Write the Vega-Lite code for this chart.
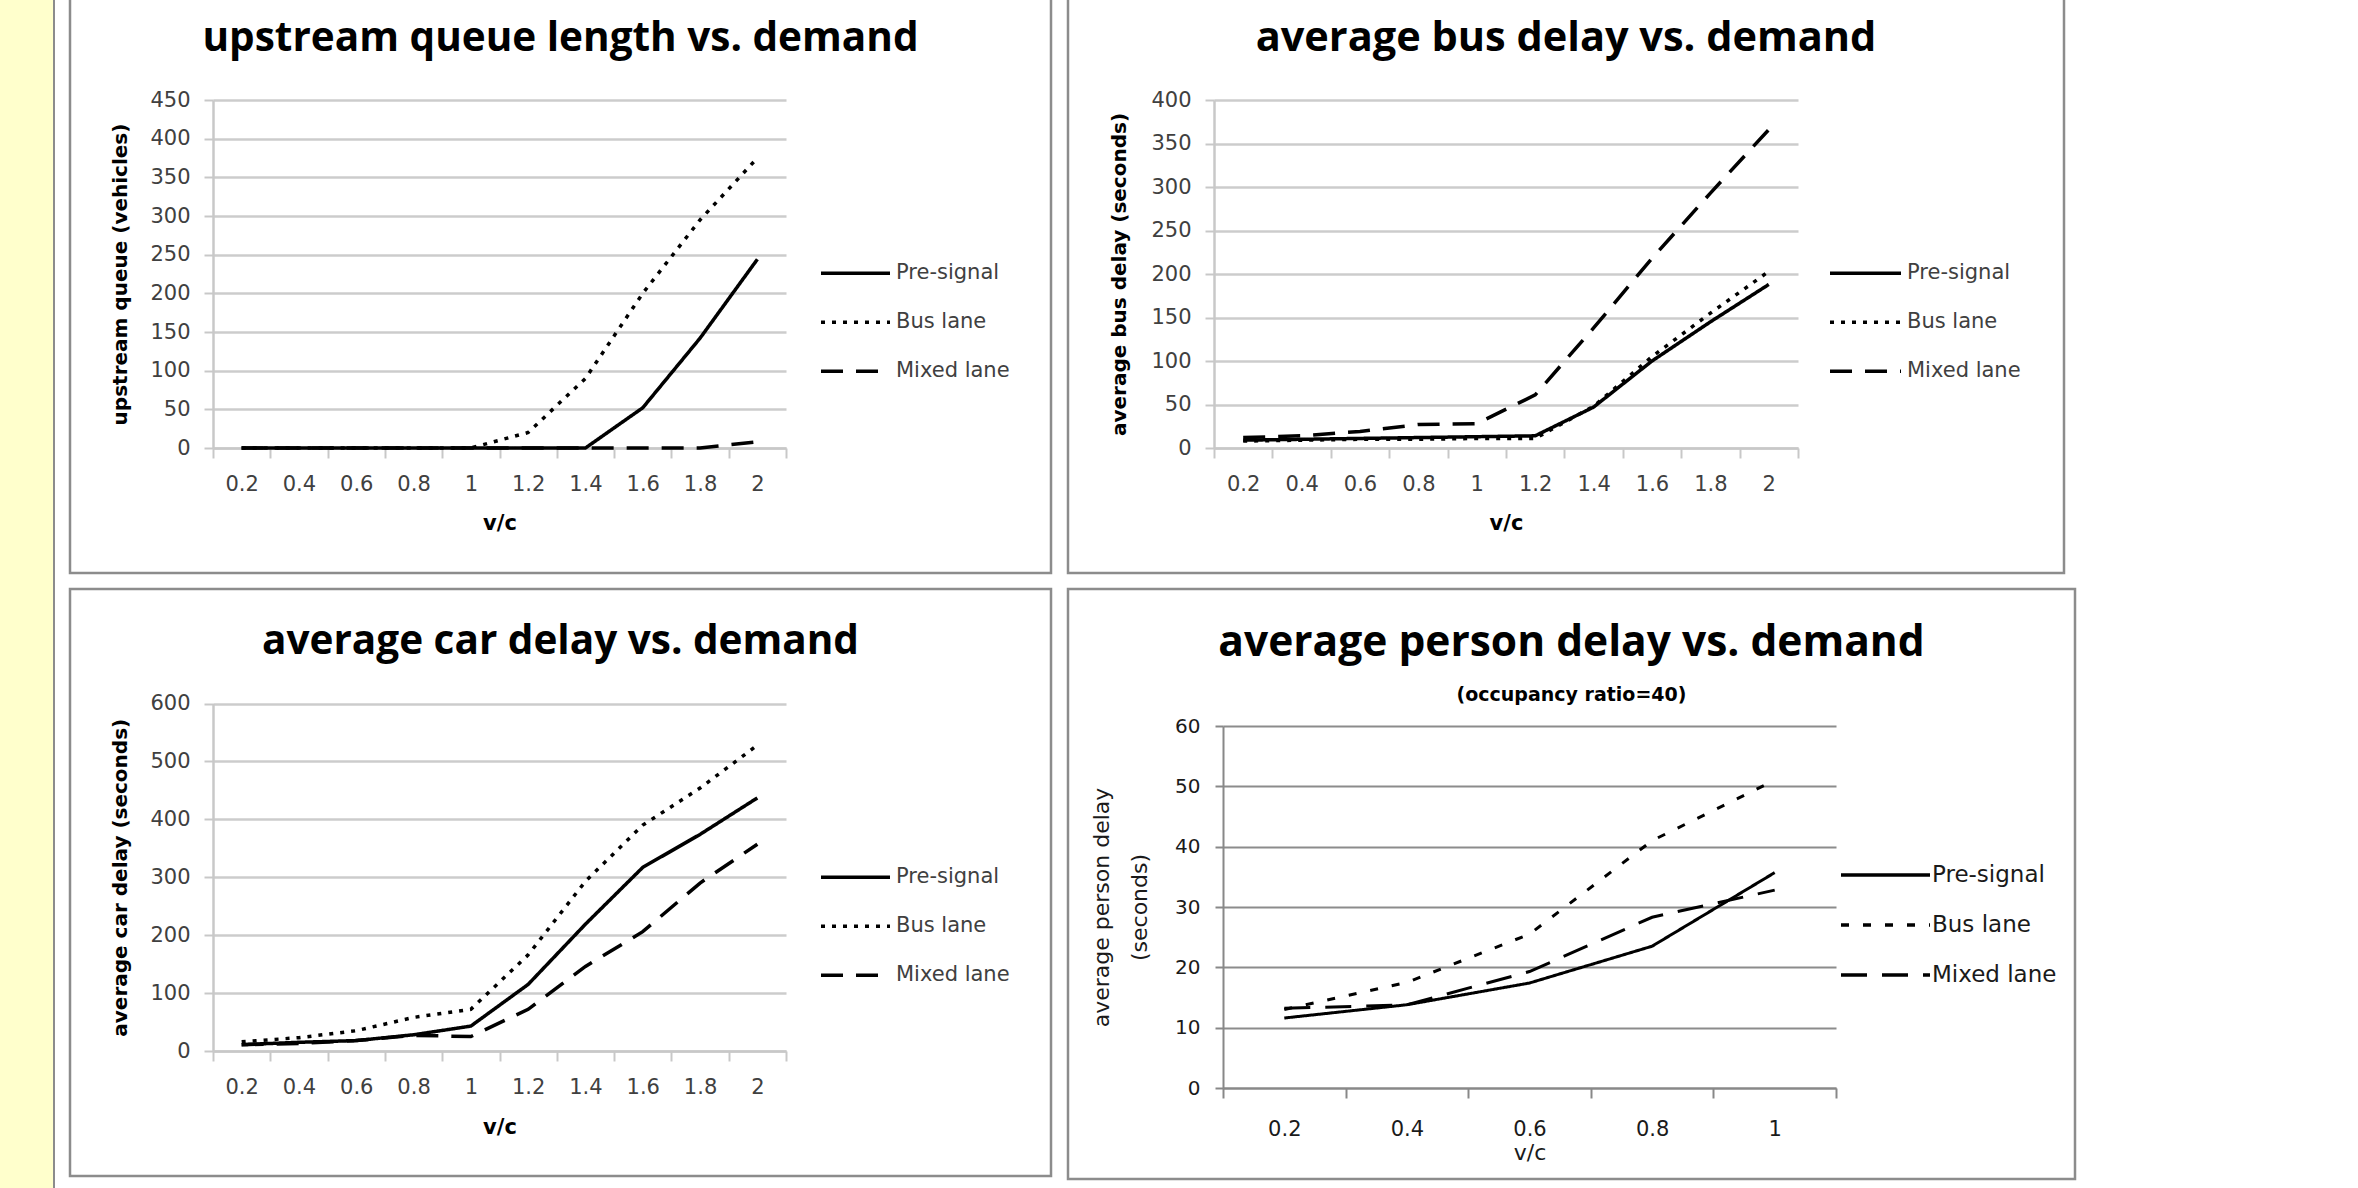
{
  "$schema": "https://vega.github.io/schema/vega-lite/v6.json",
  "padding": {"left": -4, "top": -16, "right": 0, "bottom": 0},
  "background": "white",
  "datasets": {
    "queue": [
      {"vc": 0.2, "series": "Pre-signal", "value": 0}, {"vc": 0.4, "series": "Pre-signal", "value": 0}, {"vc": 0.6, "series": "Pre-signal", "value": 0}, {"vc": 0.8, "series": "Pre-signal", "value": 0}, {"vc": 1, "series": "Pre-signal", "value": 0}, {"vc": 1.2, "series": "Pre-signal", "value": 0}, {"vc": 1.4, "series": "Pre-signal", "value": 0}, {"vc": 1.6, "series": "Pre-signal", "value": 52}, {"vc": 1.8, "series": "Pre-signal", "value": 142}, {"vc": 2, "series": "Pre-signal", "value": 244},
      {"vc": 0.2, "series": "Bus lane", "value": 0}, {"vc": 0.4, "series": "Bus lane", "value": 0}, {"vc": 0.6, "series": "Bus lane", "value": 0}, {"vc": 0.8, "series": "Bus lane", "value": 0}, {"vc": 1, "series": "Bus lane", "value": 0}, {"vc": 1.2, "series": "Bus lane", "value": 20}, {"vc": 1.4, "series": "Bus lane", "value": 90}, {"vc": 1.6, "series": "Bus lane", "value": 200}, {"vc": 1.8, "series": "Bus lane", "value": 295}, {"vc": 2, "series": "Bus lane", "value": 375},
      {"vc": 0.2, "series": "Mixed lane", "value": 0}, {"vc": 0.4, "series": "Mixed lane", "value": 0}, {"vc": 0.6, "series": "Mixed lane", "value": 0}, {"vc": 0.8, "series": "Mixed lane", "value": 0}, {"vc": 1, "series": "Mixed lane", "value": 0}, {"vc": 1.2, "series": "Mixed lane", "value": 0}, {"vc": 1.4, "series": "Mixed lane", "value": 0}, {"vc": 1.6, "series": "Mixed lane", "value": 0}, {"vc": 1.8, "series": "Mixed lane", "value": 0}, {"vc": 2, "series": "Mixed lane", "value": 8}
    ],
    "bus": [
      {"vc": 0.2, "series": "Pre-signal", "value": 9}, {"vc": 0.4, "series": "Pre-signal", "value": 10}, {"vc": 0.6, "series": "Pre-signal", "value": 11}, {"vc": 0.8, "series": "Pre-signal", "value": 12}, {"vc": 1, "series": "Pre-signal", "value": 13}, {"vc": 1.2, "series": "Pre-signal", "value": 14}, {"vc": 1.4, "series": "Pre-signal", "value": 47}, {"vc": 1.6, "series": "Pre-signal", "value": 100}, {"vc": 1.8, "series": "Pre-signal", "value": 145}, {"vc": 2, "series": "Pre-signal", "value": 188},
      {"vc": 0.2, "series": "Bus lane", "value": 8}, {"vc": 0.4, "series": "Bus lane", "value": 9}, {"vc": 0.6, "series": "Bus lane", "value": 10}, {"vc": 0.8, "series": "Bus lane", "value": 10}, {"vc": 1, "series": "Bus lane", "value": 11}, {"vc": 1.2, "series": "Bus lane", "value": 11}, {"vc": 1.4, "series": "Bus lane", "value": 48}, {"vc": 1.6, "series": "Bus lane", "value": 105}, {"vc": 1.8, "series": "Bus lane", "value": 155}, {"vc": 2, "series": "Bus lane", "value": 203},
      {"vc": 0.2, "series": "Mixed lane", "value": 12}, {"vc": 0.4, "series": "Mixed lane", "value": 14}, {"vc": 0.6, "series": "Mixed lane", "value": 19}, {"vc": 0.8, "series": "Mixed lane", "value": 27}, {"vc": 1, "series": "Mixed lane", "value": 28}, {"vc": 1.2, "series": "Mixed lane", "value": 61}, {"vc": 1.4, "series": "Mixed lane", "value": 138}, {"vc": 1.6, "series": "Mixed lane", "value": 218}, {"vc": 1.8, "series": "Mixed lane", "value": 293}, {"vc": 2, "series": "Mixed lane", "value": 366}
    ],
    "car": [
      {"vc": 0.2, "series": "Pre-signal", "value": 11}, {"vc": 0.4, "series": "Pre-signal", "value": 15}, {"vc": 0.6, "series": "Pre-signal", "value": 18}, {"vc": 0.8, "series": "Pre-signal", "value": 28}, {"vc": 1, "series": "Pre-signal", "value": 43}, {"vc": 1.2, "series": "Pre-signal", "value": 115}, {"vc": 1.4, "series": "Pre-signal", "value": 219}, {"vc": 1.6, "series": "Pre-signal", "value": 317}, {"vc": 1.8, "series": "Pre-signal", "value": 374}, {"vc": 2, "series": "Pre-signal", "value": 437},
      {"vc": 0.2, "series": "Bus lane", "value": 16}, {"vc": 0.4, "series": "Bus lane", "value": 23}, {"vc": 0.6, "series": "Bus lane", "value": 35}, {"vc": 0.8, "series": "Bus lane", "value": 58}, {"vc": 1, "series": "Bus lane", "value": 72}, {"vc": 1.2, "series": "Bus lane", "value": 166}, {"vc": 1.4, "series": "Bus lane", "value": 293}, {"vc": 1.6, "series": "Bus lane", "value": 390}, {"vc": 1.8, "series": "Bus lane", "value": 454}, {"vc": 2, "series": "Bus lane", "value": 528},
      {"vc": 0.2, "series": "Mixed lane", "value": 11}, {"vc": 0.4, "series": "Mixed lane", "value": 13}, {"vc": 0.6, "series": "Mixed lane", "value": 18}, {"vc": 0.8, "series": "Mixed lane", "value": 27}, {"vc": 1, "series": "Mixed lane", "value": 25}, {"vc": 1.2, "series": "Mixed lane", "value": 72}, {"vc": 1.4, "series": "Mixed lane", "value": 146}, {"vc": 1.6, "series": "Mixed lane", "value": 206}, {"vc": 1.8, "series": "Mixed lane", "value": 290}, {"vc": 2, "series": "Mixed lane", "value": 357}
    ],
    "person": [
      {"vc": 0.2, "series": "Pre-signal", "value": 11.6}, {"vc": 0.4, "series": "Pre-signal", "value": 13.8}, {"vc": 0.6, "series": "Pre-signal", "value": 17.4}, {"vc": 0.8, "series": "Pre-signal", "value": 23.5}, {"vc": 1, "series": "Pre-signal", "value": 35.7},
      {"vc": 0.2, "series": "Bus lane", "value": 13.0}, {"vc": 0.4, "series": "Bus lane", "value": 17.5}, {"vc": 0.6, "series": "Bus lane", "value": 25.5}, {"vc": 0.8, "series": "Bus lane", "value": 41.0}, {"vc": 1, "series": "Bus lane", "value": 51.0},
      {"vc": 0.2, "series": "Mixed lane", "value": 13.2}, {"vc": 0.4, "series": "Mixed lane", "value": 13.8}, {"vc": 0.6, "series": "Mixed lane", "value": 19.3}, {"vc": 0.8, "series": "Mixed lane", "value": 28.3}, {"vc": 1, "series": "Mixed lane", "value": 32.8}
    ]
  },
  "spacing": 13,
  "resolve": {"scale": {"strokeDash": "independent"}, "legend": {"strokeDash": "independent"}},
  "hconcat": [
    {
      "width": 57,
      "height": 1240,
      "data": {"values": [{"a": 0}]},
      "mark": {"type": "point", "opacity": 0},
      "view": {"fill": "#ffffcc", "stroke": "#8c8c8c", "strokeWidth": 2}
    },
    {
      "spacing": 12,
      "resolve": {"scale": {"strokeDash": "independent"}, "legend": {"strokeDash": "independent"}},
      "vconcat": [
        {
          "spacing": 13,
          "resolve": {"scale": {"strokeDash": "independent"}, "legend": {"strokeDash": "independent"}},
          "hconcat": [
            {
              "width": 981,
              "height": 587,
              "view": {"stroke": "#8c8c8c", "strokeWidth": 2.5, "fill": "white"},
              "title": {"text": "upstream queue length vs. demand", "offset": -73.5, "fontSize": 40.5},
              "data": {"name": "queue"},
              "mark": {"type": "line", "color": "black", "strokeWidth": 3.5, "strokeCap": "butt"},
              "encoding": {
                "x": {"field": "vc", "type": "ordinal", "scale": {"type": "band", "range": [143, 716], "paddingInner": 0, "paddingOuter": 0},
                      "axis": {"title": "v/c", "offset": -125, "titleY": 75}},
                "y": {"field": "value", "type": "quantitative", "scale": {"domain": [0, 450], "range": [462, 114], "nice": false},
                      "axis": {"title": "upstream queue (vehicles)", "values": [0, 50, 100, 150, 200, 250, 300, 350, 400, 450], "offset": -143, "titleX": -93}},
                "strokeDash": {"field": "series", "type": "nominal",
                               "scale": {"domain": ["Pre-signal", "Bus lane", "Mixed lane"], "range": [[1, 0], [4, 7], [22, 13]]},
                               "legend": {"title": null, "legendX": 749, "legendY": 263, "symbolSize": 4761}}
              }
            },
            {
              "width": 996,
              "height": 587,
              "view": {"stroke": "#8c8c8c", "strokeWidth": 2.5, "fill": "white"},
              "title": {"text": "average bus delay vs. demand", "offset": -73.7, "fontSize": 41.5},
              "data": {"name": "bus"},
              "mark": {"type": "line", "color": "black", "strokeWidth": 3.5, "strokeCap": "butt"},
              "encoding": {
                "x": {"field": "vc", "type": "ordinal", "scale": {"type": "band", "range": [146, 730], "paddingInner": 0, "paddingOuter": 0},
                      "axis": {"title": "v/c", "offset": -125, "titleY": 75}},
                "y": {"field": "value", "type": "quantitative", "scale": {"domain": [0, 400], "range": [462, 114], "nice": false},
                      "axis": {"title": "average bus delay (seconds)", "values": [0, 50, 100, 150, 200, 250, 300, 350, 400], "offset": -146, "titleX": -95}},
                "strokeDash": {"field": "series", "type": "nominal",
                               "scale": {"domain": ["Pre-signal", "Bus lane", "Mixed lane"], "range": [[1, 0], [4, 7], [22, 13]]},
                               "legend": {"title": null, "legendX": 760, "legendY": 263, "symbolSize": 5041}}
              }
            }
          ]
        },
        {
          "spacing": 13,
          "resolve": {"scale": {"strokeDash": "independent"}, "legend": {"strokeDash": "independent"}},
          "hconcat": [
            {
              "width": 981,
              "height": 587,
              "view": {"stroke": "#8c8c8c", "strokeWidth": 2.5, "fill": "white"},
              "title": {"text": "average car delay vs. demand", "offset": -73.5, "fontSize": 40.5},
              "data": {"name": "car"},
              "mark": {"type": "line", "color": "black", "strokeWidth": 3.5, "strokeCap": "butt"},
              "encoding": {
                "x": {"field": "vc", "type": "ordinal", "scale": {"type": "band", "range": [143, 716], "paddingInner": 0, "paddingOuter": 0},
                      "axis": {"title": "v/c", "offset": -125, "titleY": 76}},
                "y": {"field": "value", "type": "quantitative", "scale": {"domain": [0, 600], "range": [462, 114.5], "nice": false},
                      "axis": {"title": "average car delay (seconds)", "values": [0, 100, 200, 300, 400, 500, 600], "offset": -143, "titleX": -93}},
                "strokeDash": {"field": "series", "type": "nominal",
                               "scale": {"domain": ["Pre-signal", "Bus lane", "Mixed lane"], "range": [[1, 0], [4, 7], [22, 13]]},
                               "legend": {"title": null, "legendX": 749, "legendY": 264, "symbolSize": 4761}}
              }
            },
            {
              "width": 1007,
              "height": 590,
              "view": {"stroke": "#8c8c8c", "strokeWidth": 2.5, "fill": "white"},
              "title": {"text": "average person delay vs. demand", "offset": -116, "fontSize": 42.5, "subtitle": "(occupancy ratio=40)", "subtitleFont": "DejaVu Sans", "subtitleFontSize": 19, "subtitleFontWeight": "bold", "subtitleColor": "black", "subtitlePadding": 22},
              "data": {"name": "person"},
              "mark": {"type": "line", "color": "black", "strokeWidth": 3, "strokeCap": "butt"},
              "encoding": {
                "x": {"field": "vc", "type": "ordinal", "scale": {"type": "band", "range": [155, 768], "paddingInner": 0, "paddingOuter": 0},
                      "axis": {"title": "v/c", "offset": -91, "titleY": 64, "titleFontWeight": "normal", "titleFontSize": 22, "titleColor": "#1a1a1a",
                               "domainColor": "#888888", "domainWidth": 2, "tickColor": "#888888", "tickWidth": 2, "tickSize": 10, "labelColor": "#1a1a1a", "labelPadding": 31}},
                "y": {"field": "value", "type": "quantitative", "scale": {"domain": [0, 60], "range": [499, 137], "nice": false},
                      "axis": {"title": ["average person delay", "(seconds)"], "values": [0, 10, 20, 30, 40, 50, 60], "offset": -155, "titleX": -122,
                               "titleFontWeight": "normal", "titleFontSize": 22, "titleColor": "#1a1a1a", "titleLineHeight": 38,
                               "domainColor": "#888888", "domainWidth": 2, "tickColor": "#888888", "tickWidth": 2, "tickSize": 8,
                               "gridColor": "#8c8c8c", "gridWidth": 2, "labelColor": "#1a1a1a", "labelFontSize": 20, "labelPadding": 15}},
                "strokeDash": {"field": "series", "type": "nominal",
                               "scale": {"domain": ["Pre-signal", "Bus lane", "Mixed lane"], "range": [[1, 0], [8, 14], [26, 15]]},
                               "legend": {"title": null, "legendX": 771, "legendY": 261, "symbolSize": 7921, "clipHeight": 50, "labelColor": "#1a1a1a", "labelFontSize": 23, "labelOffset": 0}}
              }
            }
          ]
        }
      ]
    }
  ],
  "config": {
    "view": {"stroke": null},
    "title": {"font": "Open Sans", "fontSize": 40.5, "fontWeight": "bold", "color": "black", "anchor": "middle", "frame": "group"},
    "axis": {"labelFont": "DejaVu Sans", "titleFont": "DejaVu Sans", "labelFontSize": 21, "labelColor": "#404040", "titleColor": "black", "titleFontWeight": "bold",
             "domainColor": "#c8c8c8", "domainWidth": 2.5, "tickColor": "#c8c8c8", "tickWidth": 2, "gridColor": "#cccccc", "gridWidth": 2.5, "labelOverlap": false},
    "axisX": {"grid": false, "tickBand": "extent", "labelAngle": 0, "tickSize": 10, "labelBaseline": "middle", "labelPadding": 26, "titleBaseline": "middle", "titleFontSize": 21},
    "axisY": {"grid": true, "tickSize": 9, "labelPadding": 14, "titleFontSize": 20, "titleBaseline": "middle", "titleAngle": 270},
    "legend": {"orient": "none", "symbolType": "stroke", "symbolStrokeColor": "black", "symbolStrokeWidth": 3.5, "rowPadding": 0, "labelFont": "DejaVu Sans",
               "labelFontSize": 21, "labelColor": "#404040", "labelOffset": 4, "clipHeight": 48.5}
  }
}
